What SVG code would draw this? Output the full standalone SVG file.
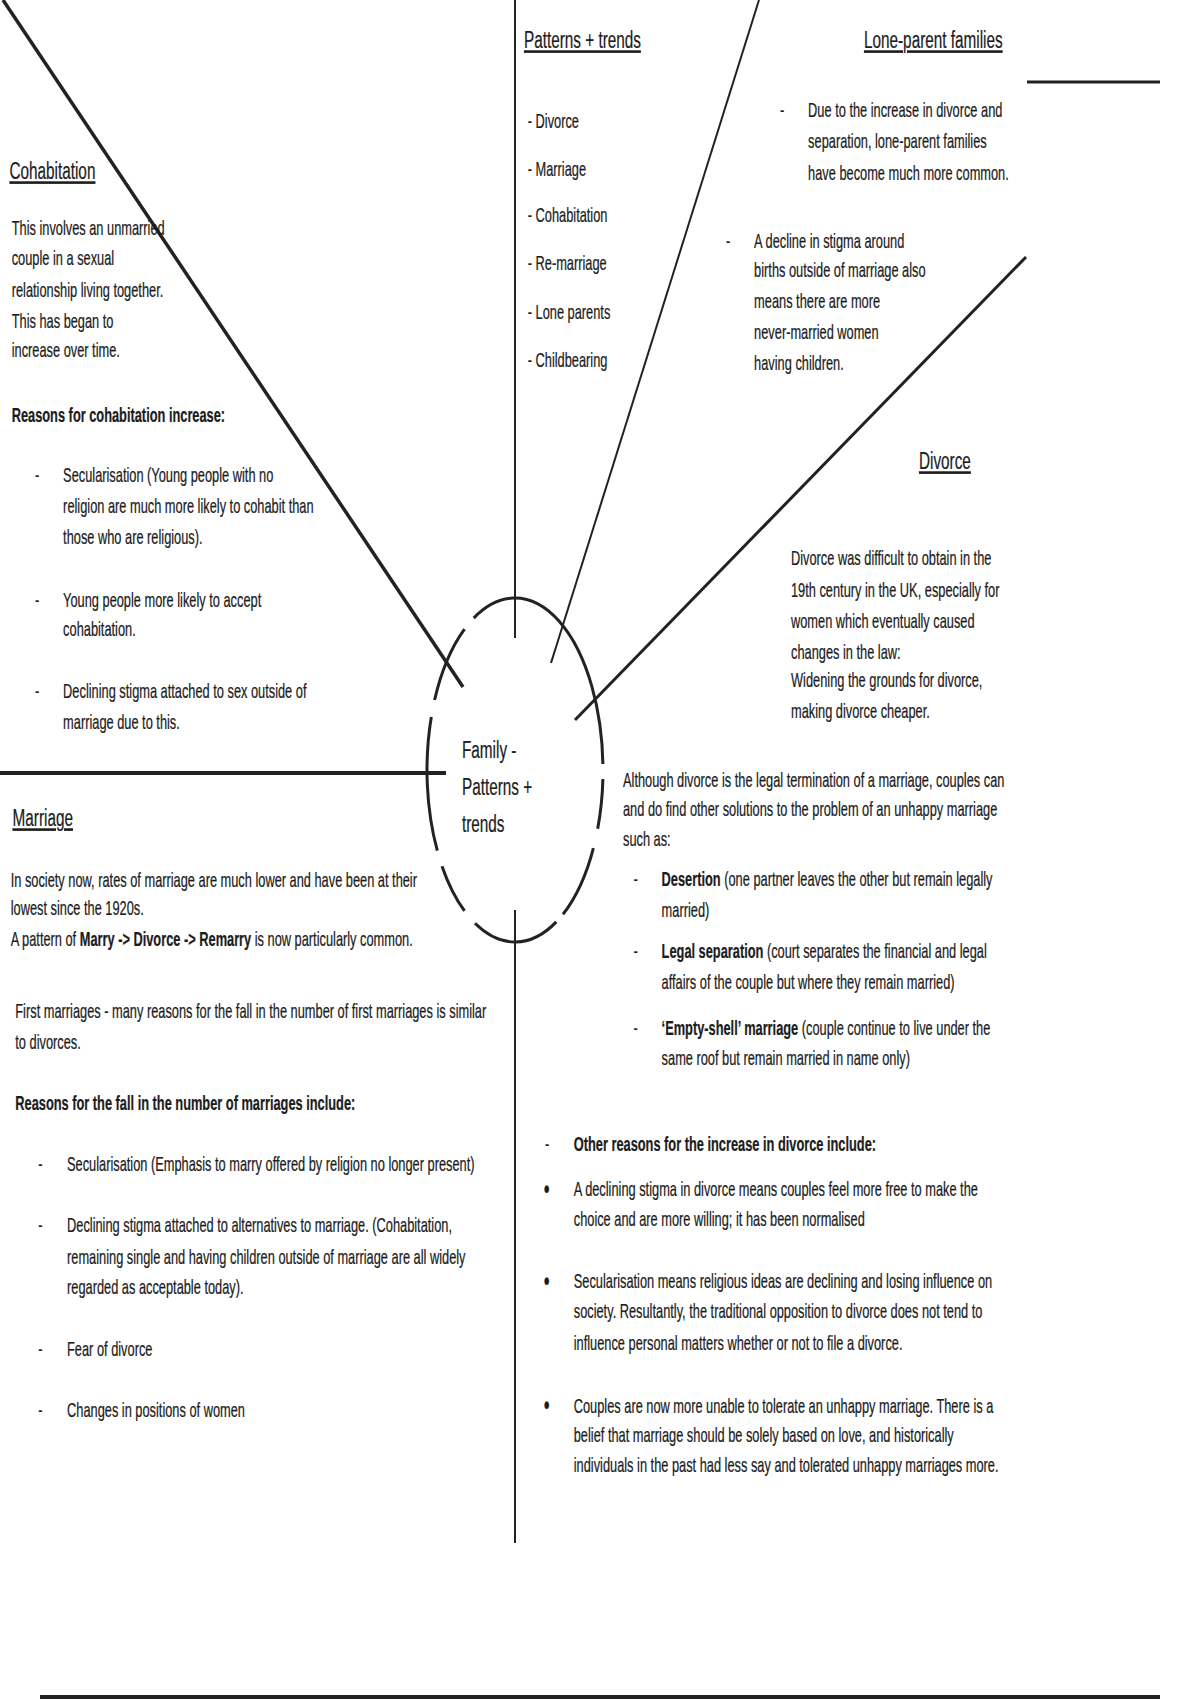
<svg xmlns="http://www.w3.org/2000/svg" width="1200" height="1700" viewBox="0 0 1200 1700">
<style>
text{font-family:"Liberation Sans",Arial,sans-serif;fill:#1c1c1c;font-size:20.5px;stroke:#1c1c1c;stroke-width:0.25}
.h{font-size:24.5px;text-decoration:underline}
.c{font-size:24.5px}
.b{font-weight:bold}
.dot{font-size:27px}
.ln{stroke:#222;fill:none;stroke-linecap:butt}
</style>
<rect width="1200" height="1700" fill="#fff"/>
<g id="connectors">
<line class="ln" x1="3" y1="0" x2="463" y2="687" stroke-width="3.5"/>
<line class="ln" x1="0" y1="773" x2="446" y2="773" stroke-width="4"/>
<line class="ln" x1="515" y1="0" x2="515" y2="638" stroke-width="2"/>
<line class="ln" x1="515" y1="910" x2="515" y2="1543" stroke-width="2"/>
<line class="ln" x1="759" y1="0" x2="551" y2="663" stroke-width="2"/>
<line class="ln" x1="1026" y1="257" x2="575" y2="720" stroke-width="3"/>
<line class="ln" x1="1027" y1="82" x2="1160" y2="82" stroke-width="3"/>
<line class="ln" x1="40" y1="1697" x2="1160" y2="1697" stroke-width="4"/>
<g id="hub-ring" class="ln" stroke-width="3">
<path d="M473.7,618.1 A88,172 0 0 1 602.9,764"/>
<path d="M602.9,779 A88,172 0 0 1 597.7,828.8"/>
<path d="M593.4,848.1 A88,172 0 0 1 563,914.3"/>
<path d="M556.3,921.9 A88,172 0 0 1 475,923.3"/>
<path d="M464.5,910.9 A88,172 0 0 1 442,866.2"/>
<path d="M437.3,850.7 A88,172 0 0 1 431.3,716.9"/>
<path d="M434.6,700 A88,172 0 0 1 464.5,629.1"/>
</g>
</g>
<g id="center" transform="translate(462,0) scale(0.625,1)">
<text class="c" x="0" y="758">Family -</text>
<text class="c" x="0" y="795">Patterns +</text>
<text class="c" x="0" y="832">trends</text>
</g>
<g id="patterns" transform="translate(524,0) scale(0.625,1)">
<text class="h" x="0" y="48">Patterns + trends</text>
<text x="6" y="128">- Divorce</text>
<text x="6" y="176">- Marriage</text>
<text x="6" y="222">- Cohabitation</text>
<text x="6" y="270">- Re-marriage</text>
<text x="6" y="319">- Lone parents</text>
<text x="6" y="367">- Childbearing</text>
</g>
<g id="lone-parent">
<g transform="translate(864,0) scale(0.625,1)"><text class="h" x="0" y="48">Lone-parent families</text></g>
<g transform="translate(780,0) scale(0.625,1)">
<text x="0" y="117">-</text>
<text x="45" y="117">Due to the increase in divorce and</text>
<text x="45" y="148">separation, lone-parent families</text>
<text x="45" y="180">have become much more common.</text>
</g>
<g transform="translate(726,0) scale(0.625,1)">
<text x="0" y="248">-</text>
<text x="45" y="248">A decline in stigma around</text>
<text x="45" y="277">births outside of marriage also</text>
<text x="45" y="308">means there are more</text>
<text x="45" y="339">never-married women</text>
<text x="45" y="370">having children.</text>
</g>
</g>
<g id="cohabitation">
<g transform="translate(9.5,0) scale(0.625,1)"><text class="h" x="0" y="179">Cohabitation</text></g>
<g transform="translate(11.7,0) scale(0.625,1)">
<text x="0" y="235">This involves an unmarried</text>
<text x="0" y="265.5">couple in a sexual</text>
<text x="0" y="297">relationship living together.</text>
<text x="0" y="328.5">This has began to</text>
<text x="0" y="357.5">increase over time.</text>
<text class="b" x="0" y="422">Reasons for cohabitation increase:</text>
</g>
<g transform="translate(35,0) scale(0.625,1)">
<text x="0" y="482">-</text>
<text x="45" y="482">Secularisation (Young people with no</text>
<text x="45" y="513">religion are much more likely to cohabit than</text>
<text x="45" y="544.5">those who are religious).</text>
<text x="0" y="607.5">-</text>
<text x="45" y="607.5">Young people more likely to accept</text>
<text x="45" y="636.5">cohabitation.</text>
<text x="0" y="698.5">-</text>
<text x="45" y="698.5">Declining stigma attached to sex outside of</text>
<text x="45" y="729.5">marriage due to this.</text>
</g>
</g>
<g id="divorce">
<g transform="translate(919,0) scale(0.625,1)"><text class="h" x="0" y="469">Divorce</text></g>
<g transform="translate(791,0) scale(0.625,1)">
<text x="0" y="565">Divorce was difficult to obtain in the</text>
<text x="0" y="597">19th century in the UK, especially for</text>
<text x="0" y="628">women which eventually caused</text>
<text x="0" y="659">changes in the law:</text>
<text x="0" y="687.5">Widening the grounds for divorce,</text>
<text x="0" y="718">making divorce cheaper.</text>
</g>
<g transform="translate(623,0) scale(0.625,1)">
<text x="0" y="787">Although divorce is the legal termination of a marriage, couples can</text>
<text x="0" y="816">and do find other solutions to the problem of an unhappy marriage</text>
<text x="0" y="846.5">such as:</text>
</g>
<g transform="translate(633.5,0) scale(0.625,1)">
<text x="0" y="886.5">-</text>
<text x="45" y="886.5"><tspan class="b">Desertion</tspan> (one partner leaves the other but remain legally</text>
<text x="45" y="917.5">married)</text>
<text x="0" y="958.5">-</text>
<text x="45" y="958.5"><tspan class="b">Legal separation</tspan> (court separates the financial and legal</text>
<text x="45" y="989.5">affairs of the couple but where they remain married)</text>
<text x="0" y="1035.5">-</text>
<text x="45" y="1035.5"><tspan class="b">‘Empty-shell’ marriage</tspan> (couple continue to live under the</text>
<text x="45" y="1065.5">same roof but remain married in name only)</text>
</g>
<g transform="translate(545,0) scale(0.625,1)">
<text x="0" y="1151.5">-</text>
<text class="b" x="46" y="1151.5">Other reasons for the increase in divorce include:</text>
<text class="dot" x="-2" y="1198">•</text>
<text x="46" y="1196.5">A declining stigma in divorce means couples feel more free to make the</text>
<text x="46" y="1226.5">choice and are more willing; it has been normalised</text>
<text class="dot" x="-2" y="1290">•</text>
<text x="46" y="1288.5">Secularisation means religious ideas are declining and losing influence on</text>
<text x="46" y="1318.5">society. Resultantly, the traditional opposition to divorce does not tend to</text>
<text x="46" y="1350">influence personal matters whether or not to file a divorce.</text>
<text class="dot" x="-2" y="1414.5">•</text>
<text x="46" y="1413">Couples are now more unable to tolerate an unhappy marriage. There is a</text>
<text x="46" y="1442">belief that marriage should be solely based on love, and historically</text>
<text x="46" y="1472">individuals in the past had less say and tolerated unhappy marriages more.</text>
</g>
</g>
<g id="marriage">
<g transform="translate(12.6,0) scale(0.625,1)"><text class="h" x="0" y="826">Marriage</text></g>
<g transform="translate(10.7,0) scale(0.625,1)">
<text x="0" y="887">In society now, rates of marriage are much lower and have been at their</text>
<text x="0" y="915">lowest since the 1920s.</text>
<text x="0" y="946">A pattern of <tspan class="b">Marry -&gt; Divorce -&gt; Remarry</tspan> is now particularly common.</text>
</g>
<g transform="translate(15.3,0) scale(0.625,1)">
<text x="0" y="1018">First marriages - many reasons for the fall in the number of first marriages is similar</text>
<text x="0" y="1049.5">to divorces.</text>
<text class="b" x="0" y="1110.5">Reasons for the fall in the number of marriages include:</text>
</g>
<g transform="translate(38.3,0) scale(0.625,1)">
<text x="0" y="1171.5">-</text>
<text x="46" y="1171.5">Secularisation (Emphasis to marry offered by religion no longer present)</text>
<text x="0" y="1232.5">-</text>
<text x="46" y="1232.5">Declining stigma attached to alternatives to marriage. (Cohabitation,</text>
<text x="46" y="1264">remaining single and having children outside of marriage are all widely</text>
<text x="46" y="1294.5">regarded as acceptable today).</text>
<text x="0" y="1356.5">-</text>
<text x="46" y="1356.5">Fear of divorce</text>
<text x="0" y="1417.5">-</text>
<text x="46" y="1417.5">Changes in positions of women</text>
</g>
</g>
</svg>
